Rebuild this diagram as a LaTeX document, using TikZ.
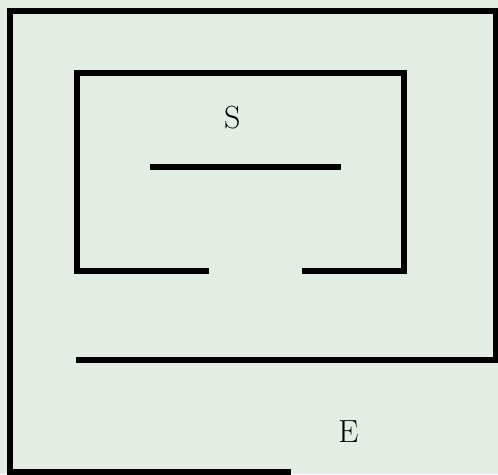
\documentclass[tikz,border=0pt]{standalone}
\usepackage{xcolor}
\usepackage{tikz}
\usetikzlibrary{positioning}

\definecolor{mazebg}{RGB}{227,237,228}

\begin{document}
\begin{tikzpicture}[x=1pt,y=-1pt,
  wall/.style={line width=6pt,line join=miter},
  roomlabel/.style={inner sep=0pt,font=\fontsize{32}{38}\selectfont}]
\useasboundingbox (0,0) rectangle (498,474);
\fill[mazebg] (0,0) rectangle (498,474);
% outer walls
\draw[wall] (290.7,471.5) -- (10.3,471.5) -- (10.3,10.5) -- (500,10.5);
\draw[wall] (495.5,10.5) -- (495.5,356.7);
\draw[wall] (76,359.5) -- (500,359.5);
% inner room
\draw[wall] (208.7,271.3) -- (77.3,271.3) -- (77.3,72.6) -- (404.2,72.6) -- (404.2,271.3) -- (301.7,271.3);
\draw[wall] (150,166.5) -- (340.7,166.5);
% labels
\node[roomlabel] (start) at (232.3,118) {S};
\node[roomlabel] (exit) at (348.3,431.2) {E};
\end{tikzpicture}
\end{document}
